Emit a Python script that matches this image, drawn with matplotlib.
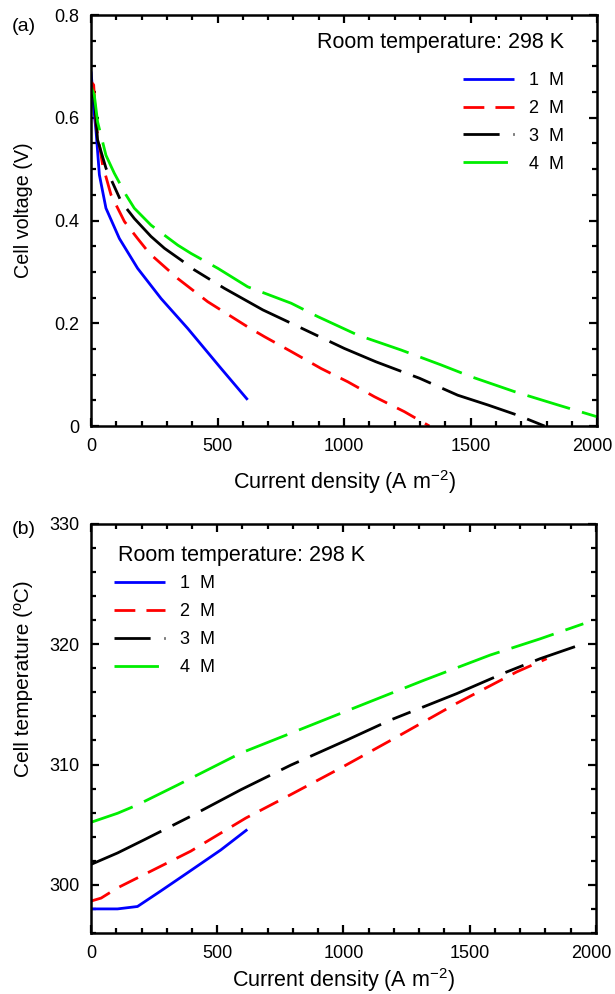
import matplotlib
matplotlib.use('Agg')
import matplotlib.pyplot as plt
import matplotlib.transforms as mtransforms
from matplotlib.lines import Line2D
from matplotlib.ticker import MultipleLocator

plt.rcParams['font.family'] = ['Liberation Sans', 'DejaVu Sans']
plt.rcParams['font.size'] = 13

# (a) cell voltage vs current density
v1_x = [0, 5, 10.5, 20, 33, 59, 112, 184, 277, 382, 514, 619]
v1_y = [0.69, 0.66, 0.62, 0.573, 0.489, 0.424, 0.365, 0.307, 0.248, 0.190, 0.112, 0.051]
v2_x = [0, 10.5, 20, 46, 79, 132, 184, 231, 343, 461, 619, 685, 791, 909, 1015, 1120, 1238, 1337]
v2_y = [0.67, 0.664, 0.586, 0.508, 0.450, 0.398, 0.365, 0.336, 0.287, 0.242, 0.193, 0.174, 0.145, 0.112, 0.086,
        0.057, 0.028, 0.0]
v3_x = [0, 13, 26, 59, 119, 171, 237, 290, 356, 408, 527, 679, 791, 1001, 1126, 1298, 1449, 1568, 1686, 1792]
v3_y = [0.645, 0.638, 0.557, 0.502, 0.437, 0.404, 0.369, 0.346, 0.323, 0.304, 0.268, 0.226, 0.200, 0.151, 0.125,
        0.093, 0.060, 0.041, 0.021, 0.0]
v4_x = [0, 13, 26, 59, 92, 138, 171, 237, 343, 395, 501, 619, 791, 896, 1054, 1225, 1383, 1502, 1673, 1845, 2000]
v4_y = [0.66, 0.644, 0.592, 0.527, 0.492, 0.450, 0.424, 0.391, 0.352, 0.336, 0.307, 0.271, 0.239, 0.213, 0.177,
        0.148, 0.119, 0.096, 0.067, 0.041, 0.018]

# (b) cell temperature vs current density
t1_x = [0, 105, 184, 277, 382, 514, 619]
t1_y = [298.0, 298.0, 298.2, 299.5, 301.0, 302.9, 304.6]
t2_x = [0, 40, 105, 224, 395, 613, 791, 988, 1212, 1449, 1686, 1805]
t2_y = [298.65, 298.9, 299.75, 301.0, 302.8, 305.55, 307.5, 309.7, 312.3, 315.1, 317.7, 318.8]
t3_x = [0, 105, 211, 395, 593, 791, 1015, 1186, 1449, 1647, 1779, 1917]
t3_y = [301.7, 302.65, 303.75, 305.7, 307.9, 309.95, 312.05, 313.7, 315.9, 317.7, 318.8, 319.8]
t4_x = [0, 105, 184, 343, 593, 791, 1054, 1318, 1581, 1779, 1950]
t4_y = [305.2, 305.95, 306.65, 308.3, 310.95, 312.6, 314.8, 317.0, 319.1, 320.45, 321.7]

labels = ['1  M', '2  M', '3  M', '4  M']
colors = ['#0000ff', '#ff0000', '#000000', '#00ee00']
line_dashes = [None, (7.5, 4), (28, 4.5, 7, 4.5), (16, 4.5)]
legend_dashes = [None, (7.5, 4), (13, 5, 0.6, 5), (16, 4.5)]
LW = 2.0

fig = plt.figure(figsize=(6.15, 9.94), dpi=100)
ax1 = fig.add_axes([0.148, 0.5714, 0.823, 0.4135])
ax2 = fig.add_axes([0.148, 0.0614, 0.821, 0.4115])


def style(ax):
    for s in ax.spines.values():
        s.set_linewidth(1.8)
    ax.tick_params(which='both', direction='in', top=True, right=True, width=1.6, labelsize=13)
    ax.tick_params(which='major', length=6, pad=8.5)
    ax.tick_params(which='minor', length=3.5)
    ax.set_xlim(0, 2000)
    ax.set_xticks([0, 500, 1000, 1500, 2000])
    ax.xaxis.set_minor_locator(MultipleLocator(100))
    ax.set_xlabel('Current density (A m$^{\\mathregular{-2}}$)', fontsize=15.5)


def draw(ax, xs, ys):
    handles = []
    for x, y, c, d, ld in zip(xs, ys, colors, line_dashes, legend_dashes):
        ln, = ax.plot(x, y, color=c, lw=LW, solid_capstyle='butt', dash_capstyle='butt')
        h = Line2D([], [], color=c, lw=LW, solid_capstyle='butt', dash_capstyle='butt')
        if d is not None:
            ln.set_dashes(d)
            h.set_dashes(ld)
        handles.append(h)
    return handles


def shift_last_label(ax):
    # nudge the "2000" label left so it stays inside the figure
    fig.canvas.draw()
    for lab in ax.get_xticklabels():
        if lab.get_text() == '2000':
            lab.set_transform(lab.get_transform() +
                              mtransforms.ScaledTranslation(-5 / 100, 0, fig.dpi_scale_trans))


h1 = draw(ax1, [v1_x, v2_x, v3_x, v4_x], [v1_y, v2_y, v3_y, v4_y])
style(ax1)
ax1.set_ylim(0, 0.8)
ax1.set_yticks([0, 0.2, 0.4, 0.6, 0.8])
ax1.set_yticklabels(['0', '0.2', '0.4', '0.6', '0.8'])
ax1.yaxis.set_minor_locator(MultipleLocator(0.05))
ax1.set_ylabel('Cell voltage (V)', fontsize=14.2)
ax1.xaxis.set_label_coords(0.5, -0.102)
ax1.yaxis.set_label_coords(-0.114, 0.526)
ax1.text(0.935, 0.932, 'Room temperature: 298 K', transform=ax1.transAxes, ha='right', va='center',
         fontsize=15.5)
ax1.legend(h1, labels, loc='upper left', bbox_to_anchor=(0.735, 0.861), frameon=False,
           handlelength=2.85, handletextpad=0.8, labelspacing=0.6, borderpad=0, borderaxespad=0)

h2 = draw(ax2, [t1_x, t2_x, t3_x, t4_x], [t1_y, t2_y, t3_y, t4_y])
style(ax2)
ax2.set_ylim(296, 330)
ax2.yaxis.set_major_locator(MultipleLocator(10))
ax2.yaxis.set_minor_locator(MultipleLocator(2))
ax2.set_ylabel('Cell temperature (ºC)', fontsize=15)
ax2.xaxis.set_label_coords(0.5, -0.08)
ax2.yaxis.set_label_coords(-0.114, 0.621)
ax2.text(0.053, 0.922, 'Room temperature: 298 K', transform=ax2.transAxes, ha='left', va='center',
         fontsize=15.5)
ax2.legend(h2, labels, loc='upper left', bbox_to_anchor=(0.045, 0.874), frameon=False,
           handlelength=2.85, handletextpad=0.8, labelspacing=0.6, borderpad=0, borderaxespad=0)

shift_last_label(ax1)
shift_last_label(ax2)

fig.text(0.019, 0.973, '(a)', va='center', fontsize=14)
fig.text(0.019, 0.467, '(b)', va='center', fontsize=14)

fig.savefig('out.png', dpi=100)
